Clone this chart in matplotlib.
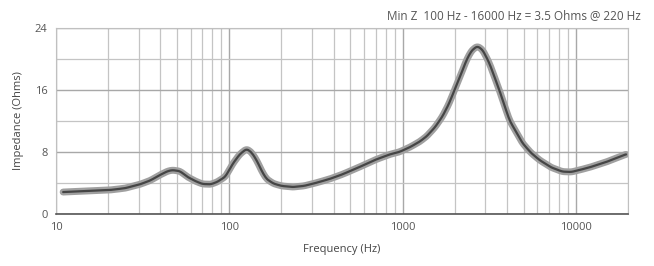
import matplotlib
matplotlib.use("Agg")
import matplotlib.pyplot as plt
import numpy as np
from matplotlib.ticker import LogLocator, FixedLocator, NullFormatter

freq_hz = [11, 15, 20.5, 25, 30.5, 35, 39.7, 44, 47, 52, 57, 64, 70, 78, 85, 95, 105, 115, 126, 135, 144, 155, 164, 180, 200, 232, 270, 318, 380, 450, 546, 700, 850, 960, 1100, 1250, 1375, 1540, 1700, 1850, 1995, 2170, 2340, 2500, 2700, 2900, 3170, 3620, 4140, 4920, 5500, 6170, 7200, 8360, 9400, 10470, 12000, 15000, 19500]
impedance_ohm = [2.8, 2.95, 3.07, 3.3, 3.8, 4.3, 5.0, 5.5, 5.65, 5.5, 4.8, 4.2, 3.85, 3.8, 4.1, 4.8, 6.5, 7.7, 8.4, 7.9, 6.9, 5.4, 4.5, 3.9, 3.6, 3.45, 3.6, 4.0, 4.5, 5.1, 5.9, 7.0, 7.7, 8.0, 8.6, 9.3, 10.0, 11.2, 12.6, 14.2, 16.0, 18.0, 19.9, 21.1, 21.7, 21.2, 19.5, 16.0, 12.1, 9.15, 7.9, 6.95, 6.0, 5.45, 5.4, 5.65, 6.0, 6.7, 7.7]
x_ticks = [10, 100, 1000, 10000]
x_ticklabels = ["10", "100", "1000", "10000"]
y_ticks = [0, 8, 16, 24]
title_text = "Min Z  100 Hz - 16000 Hz = 3.5 Ohms @ 220 Hz"

plt.rcParams['font.family'] = ['Open Sans', 'DejaVu Sans']
fig = plt.figure(figsize=(6.54, 2.66), dpi=100)
ax = fig.add_axes([0.0856, 0.1966, 0.8746, 0.697])

# smooth the line in log space
lf = np.log10(freq_hz)
xs = np.linspace(lf[0], lf[-1], 600)
ys = np.interp(xs, lf, impedance_ohm)
k = 5
ker = np.ones(k) / k
ys_s = np.convolve(np.pad(ys, k // 2, mode='edge'), ker, mode='valid')
ax.plot(10 ** xs, ys_s, color='#a0a0a0', lw=5, solid_capstyle='round', zorder=3)
ax.plot(10 ** xs, ys_s, color='#454545', lw=1.6, solid_capstyle='round', zorder=4)

ax.set_xscale('log')
ax.set_xlim(10, 20000)
ax.set_ylim(0, 24)
ax.xaxis.set_major_locator(FixedLocator(x_ticks))
ax.set_xticklabels(x_ticklabels)
ax.xaxis.set_minor_locator(LogLocator(base=10, subs=np.arange(2, 10)))
ax.xaxis.set_minor_formatter(NullFormatter())
ax.set_yticks(y_ticks)
ax.yaxis.set_minor_locator(FixedLocator([4, 12, 20]))

ax.grid(True, which='major', color='#a8a8a8', lw=1.0)
ax.grid(True, which='minor', color='#c4c4c4', lw=0.9)
ax.tick_params(which='both', length=0, labelsize=8, colors='#555555', pad=6)
for s in ['top', 'right', 'left']:
    ax.spines[s].set_color('#c0c0c0')
ax.spines['bottom'].set_color('#555555')
ax.spines['bottom'].set_linewidth(1.2)

ax.set_xlabel('Frequency (Hz)', fontsize=8, color='#444444', labelpad=8)
ax.set_ylabel('Impedance (Ohms)', fontsize=8, color='#444444', labelpad=8)
fig.text(0.98, 0.965, title_text, ha='right', va='top', fontsize=8.5, color='#555555')

fig.savefig('out.png', dpi=100, facecolor='white')
